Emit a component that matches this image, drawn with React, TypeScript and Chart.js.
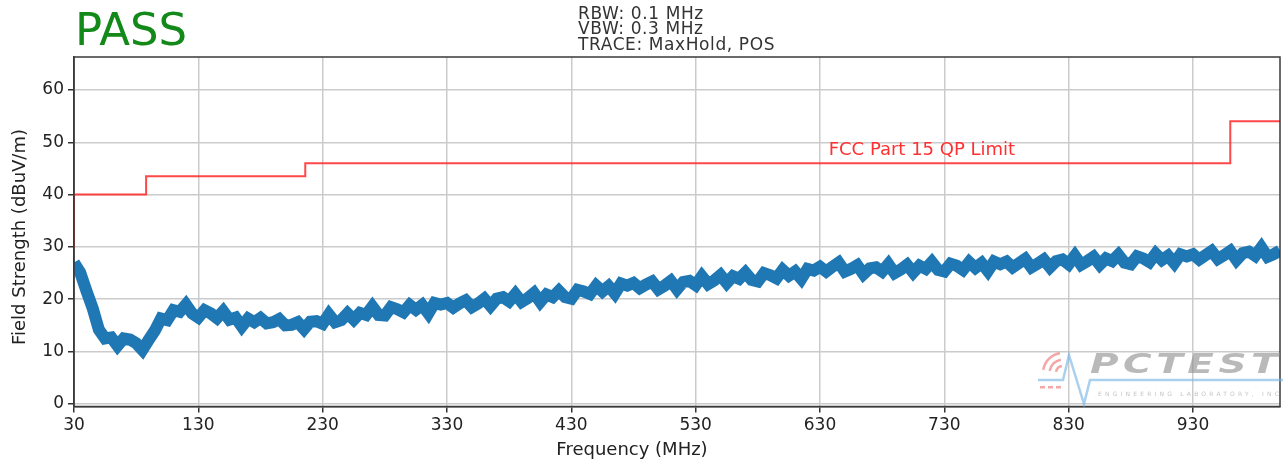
import { useEffect, useRef } from "react";
import { Chart, registerables } from "chart.js";

Chart.register(...registerables);

// ---- data ----
const traceStartMHz = 30;
const traceStepMHz = 5;
const traceValues = [
  27.0, 25.1, 21.6, 18.3, 14.2, 12.5, 12.7, 11.1, 12.5, 12.3, 11.6, 10.3, 12.2, 14.0, 16.3, 16.0, 17.9, 17.6, 19.0, 17.3,
  16.5, 17.9, 17.3, 16.4, 17.7, 16.1, 16.5, 14.8, 16.3, 15.6, 16.4, 15.4, 15.6, 16.2, 15.0, 15.1, 15.6, 14.3, 15.7, 15.8,
  15.3, 17.1, 15.6, 16.0, 17.3, 16.1, 17.4, 17.0, 18.6, 17.0, 16.9, 18.5, 18.1, 17.5, 18.9, 18.0, 18.9, 17.3, 19.3, 19.0,
  19.3, 18.4, 19.2, 19.8, 18.5, 19.2, 20.1, 18.7, 20.1, 20.4, 19.6, 21.0, 19.5, 20.2, 21.2, 19.5, 20.9, 20.4, 21.6, 20.4,
  20.1, 21.8, 21.5, 21.0, 22.6, 21.5, 22.5, 21.1, 23.0, 22.6, 23.1, 22.1, 22.8, 23.4, 21.9, 22.6, 23.5, 21.9, 23.3, 23.5,
  22.7, 24.4, 22.9, 23.6, 24.6, 23.1, 24.4, 23.9, 25.1, 23.7, 23.4, 25.0, 24.6, 24.0, 25.6, 24.5, 25.3, 23.9, 25.8, 25.5,
  26.2, 25.3, 26.2, 27.0, 25.3, 25.8, 26.5, 24.8, 25.9, 26.1, 25.3, 26.7, 25.0, 25.7, 26.6, 25.1, 26.4, 25.8, 27.1, 25.6,
  25.3, 26.8, 26.4, 25.6, 27.1, 26.0, 26.9, 25.4, 27.2, 26.7, 27.2, 26.1, 26.9, 27.7, 26.1, 26.8, 27.6, 26.1, 27.3, 27.6,
  26.7, 28.3, 26.6, 27.3, 28.1, 26.6, 27.8, 27.3, 28.5, 27.0, 26.7, 28.2, 27.8, 27.1, 28.7, 27.5, 28.3, 26.9, 28.6, 28.2,
  28.6, 27.6, 28.4, 29.2, 27.7, 28.4, 29.2, 27.5, 28.8, 29.1, 28.3, 29.9, 28.1, 28.6, 29.3,
];
const limitFreqs = [30, 30, 88, 88, 216, 216, 960, 960, 1000];
const limitValues = [29.8, 40, 40, 43.5, 43.5, 46, 46, 54, 54];
const xTicks = [30, 130, 230, 330, 430, 530, 630, 730, 830, 930];
const yTicks = [0, 10, 20, 30, 40, 50, 60];
const infoLines = ["RBW: 0.1 MHz", "VBW: 0.3 MHz", "TRACE: MaxHold, POS"];
const verdict = "PASS";
const limitLabel = "FCC Part 15 QP Limit";
const xTitle = "Frequency (MHz)";
const yTitle = "Field Strength (dBuV/m)";

const FONT = "'DejaVu Sans', sans-serif";

const overlayPlugin = {
  id: "overlay",
  afterDraw(chart: any) {
    const ctx = chart.ctx as CanvasRenderingContext2D;
    const a = chart.chartArea;
    const xs = chart.scales.x;
    const ys = chart.scales.y;
    ctx.save();
    // frame
    ctx.strokeStyle = "#3a3a3a";
    ctx.lineWidth = 1.5;
    ctx.strokeRect(a.left, a.top, a.right - a.left, a.bottom - a.top);

    // verdict
    ctx.fillStyle = "#13891a";
    ctx.font = `45px ${FONT}`;
    ctx.textAlign = "left";
    ctx.textBaseline = "alphabetic";
    ctx.fillText(verdict, 75, 45);

    // info lines
    ctx.fillStyle = "#333";
    ctx.font = `17px ${FONT}`;
    (ctx as any).letterSpacing = "0.6px";
    infoLines.forEach((t, i) => ctx.fillText(t, 578, 18.5 + i * 15.5));
    (ctx as any).letterSpacing = "0px";

    // limit label
    ctx.fillStyle = "#ff3030";
    ctx.font = `18px ${FONT}`;
    ctx.textBaseline = "middle";
    ctx.fillText(limitLabel, xs.getPixelForValue(637), ys.getPixelForValue(48.4));

    // axis titles
    ctx.fillStyle = "#222";
    ctx.font = `18px ${FONT}`;
    ctx.textAlign = "center";
    ctx.fillText(xTitle, 632, 450);
    ctx.save();
    ctx.translate(20, 237);
    ctx.rotate(-Math.PI / 2);
    ctx.fillText(yTitle, 0, 0);
    ctx.restore();

    // logo watermark
    ctx.globalAlpha = 0.6;
    ctx.strokeStyle = "#ee6b6b";
    ctx.lineWidth = 2.5;
    [7, 13.5, 20].forEach((r) => {
      ctx.beginPath();
      ctx.arc(1063, 373, r, Math.PI * 1.05, Math.PI * 1.45);
      ctx.stroke();
    });
    ctx.fillStyle = "#ee6b6b";
    [1040, 1048, 1056].forEach((x) => ctx.fillRect(x, 386, 5, 2.5));
    ctx.strokeStyle = "#6fb2e4";
    ctx.lineWidth = 2.5;
    ctx.beginPath();
    ctx.moveTo(1038, 380);
    ctx.lineTo(1063, 380);
    ctx.lineTo(1069, 355);
    ctx.lineTo(1084, 404);
    ctx.lineTo(1090, 380);
    ctx.lineTo(1283, 380);
    ctx.stroke();
    ctx.fillStyle = "#8a8a8a";
    ctx.save();
    ctx.translate(1090, 373);
    ctx.scale(1.5, 1);
    ctx.font = `italic bold 26px ${FONT}`;
    ctx.textAlign = "left";
    ctx.textBaseline = "alphabetic";
    (ctx as any).letterSpacing = "3px";
    ctx.fillText("PCTEST", 0, 0);
    ctx.restore();
    ctx.font = `6px ${FONT}`;
    ctx.fillStyle = "#999";
    ctx.textAlign = "left";
    ctx.textBaseline = "alphabetic";
    (ctx as any).letterSpacing = "3.2px";
    ctx.fillText("ENGINEERING LABORATORY, INC.", 1098, 396);
    ctx.restore();
  },
};

export default function App() {
  const ref = useRef<HTMLCanvasElement>(null);
  useEffect(() => {
    document.body.style.margin = "0";
    const tracePoints = traceValues.map((v, i) => ({ x: traceStartMHz + i * traceStepMHz, y: v }));
    const limitPoints = limitFreqs.map((f, i) => ({ x: f, y: limitValues[i] }));
    const gridOpts = { color: "#cbcbcb", lineWidth: 1.5, tickLength: 6, tickColor: "#333", drawTicks: true };
    const tickFont = { family: FONT, size: 17 };
    const chart = new Chart(ref.current!, {
      type: "line",
      data: {
        datasets: [
          {
            data: limitPoints,
            borderColor: "rgba(255,40,40,0.85)",
            borderWidth: 2,
            pointRadius: 0,
          },
          {
            data: tracePoints,
            borderColor: "#1f77b4",
            borderWidth: 12,
            pointRadius: 0,
            borderJoinStyle: "miter",
          },
        ],
      },
      options: {
        responsive: false,
        animation: false,
        parsing: true,
        layout: { padding: { top: 57, right: 3, left: 0, bottom: 0 } },
        plugins: { legend: { display: false }, tooltip: { enabled: false }, title: { display: false } },
        scales: {
          x: {
            type: "linear",
            min: 30,
            max: 1000,
            afterBuildTicks: (s: any) => {
              s.ticks = xTicks.map((v) => ({ value: v }));
            },
            afterFit: (s: any) => {
              s.height = 57.5;
            },
            grid: gridOpts,
            border: { color: "#3a3a3a", width: 1.5 },
            ticks: { color: "#222", font: tickFont, padding: 3, maxRotation: 0, autoSkip: false },
          },
          y: {
            type: "linear",
            min: -0.5,
            max: 66.3,
            afterBuildTicks: (s: any) => {
              s.ticks = yTicks.map((v) => ({ value: v }));
            },
            afterFit: (s: any) => {
              s.width = 74;
            },
            grid: gridOpts,
            border: { color: "#3a3a3a", width: 1.5 },
            ticks: { color: "#222", font: tickFont, padding: 4, autoSkip: false },
          },
        },
      } as any,
      plugins: [overlayPlugin],
    });
    return () => chart.destroy();
  }, []);
  return (
    <div style={{ position: "fixed", left: 0, top: 0, width: 1283, height: 464, background: "#fff" }}>
      <canvas ref={ref} width={1283} height={464} style={{ width: 1283, height: 464 }} />
    </div>
  );
}
